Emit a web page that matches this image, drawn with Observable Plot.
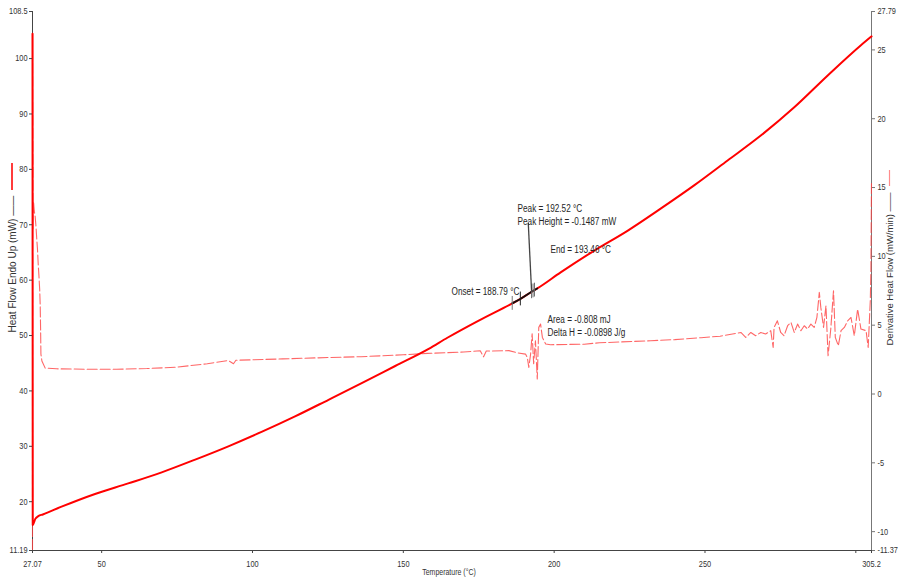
<!DOCTYPE html>
<html>
<head>
<meta charset="utf-8">
<script src="https://cdn.jsdelivr.net/npm/d3@7"></script>
<script src="https://cdn.jsdelivr.net/npm/@observablehq/plot@0.6"></script>
<style>
  html, body { margin: 0; padding: 0; background: #fff; }
  #chart { width: 898px; height: 581px; }
</style>
</head>
<body>
<div id="chart"></div>
<script>
// DSC heat flow (left axis, mW) against temperature (°C)
const heatFlowT = [27.07, 27.15, 27.5, 28.0, 29.0, 30.5, 36.7, 47.8, 58.8, 69.9, 81.0, 92.0, 103.0, 114.1,
  125.2, 136.2, 147.3, 158.4, 164.6, 175.0, 186.1, 188.79, 192.52, 194.4, 202.15, 213.2, 224.3,
  235.3, 246.4, 257.5, 268.5, 279.6, 290.6, 301.7, 305.2];
const heatFlow = [104.5, 15.8, 16.2, 16.9, 17.4, 17.7, 19.1, 21.4, 23.3, 25.3, 27.6, 30.0, 32.6, 35.4,
  38.4, 41.4, 44.5, 47.6, 49.6, 52.7, 55.8, 56.6, 57.9, 58.5, 61.4, 65.3, 68.9,
  72.9, 77.1, 81.6, 86.1, 91.2, 96.9, 102.4, 104.0];

// Derivative heat flow (right axis, mW/min)
const derivT = [27.07, 27.12, 27.25, 27.40, 27.65, 27.95, 28.25, 28.50, 28.70, 28.95, 29.20, 29.45, 29.62,
  29.75, 29.86, 30.19, 31.28, 35, 45, 55, 65, 75, 85, 92.0, 93.7, 94.5, 110, 125, 136, 150, 158, 170,
  175.5, 176.6, 177.5, 185, 187.8, 190.5, 191.1, 191.6, 192.2, 192.7, 193.2, 193.8, 194.4, 194.9, 195.5,
  196.1, 197.2, 198.8, 210, 215, 232, 240, 248.7, 255, 261.9, 263.5, 265.2, 266.8, 268.5, 270.1, 271.8,
  272.6, 272.9, 274.0, 275.1, 276.2, 277.4, 278.5, 279.6, 280.7, 281.8, 282.9, 284.0, 285.1, 286.2,
  287.1, 287.9, 288.4, 289.3, 290.1, 290.8, 291.7, 292.6, 293.2, 294.2, 295.1, 296.2, 297.3, 298.4,
  299.5, 300.6, 301.7, 303.4, 304.1, 304.8, 305.0, 305.2];
const deriv = [-11.3, 26.2, 12.0, 14.0, 13.3, 12.9, 12.1, 11.2, 10.6, 9.5, 8.6, 7.6, 6.5,
  4.8, 2.9, 2.4, 1.88, 1.83, 1.80, 1.80, 1.85, 1.95, 2.2, 2.43, 2.2, 2.45, 2.55, 2.65, 2.71, 2.85, 2.95, 3.05,
  3.14, 2.7, 3.12, 3.15, 2.99, 2.90, 2.66, 1.93, 2.92, 4.38, 2.20, 3.87, 1.09, 4.84, 5.08,
  4.11, 3.63, 3.58, 3.62, 3.72, 3.87, 3.95, 4.09, 4.2, 4.47, 4.11, 4.47, 4.23, 4.47, 4.36, 4.60,
  3.38, 4.84, 5.32, 4.47, 4.23, 4.96, 5.20, 4.47, 5.08, 4.60, 4.96, 4.72, 5.08, 4.84,
  5.56, 7.38, 6.29, 4.84, 6.41, 2.78, 4.72, 7.50, 4.11, 3.51, 4.60, 4.84, 5.32, 5.56,
  4.23, 6.17, 4.72, 4.60, 3.38, 6.78, 8.96, 15.5];

// Axis ranges and ticks
const tempDomain = [27.07, 305.2];
const heatFlowDomain = [11.19, 108.5];
const derivDomain = [-11.37, 27.79];
const tempTicks = [27.07, 50, 100, 150, 200, 250, 300, 305.2];
const tempTickLabels = ["27.07", "50", "100", "150", "200", "250", "", "305.2"];
const heatFlowTicks = [11.19, 20, 30, 40, 50, 60, 70, 80, 90, 100, 108.5];
const heatFlowTickLabels = ["11.19", "20", "30", "40", "50", "60", "70", "80", "90", "100", "108.5"];
const derivTicks = [-11.37, -10, -5, 0, 5, 10, 15, 20, 25, 27.79];
const derivTickLabels = ["-11.37", "-10", "-5", "0", "5", "10", "15", "20", "25", "27.79"];

// Transition analysis results
const onsetT = 188.79, peakT = 192.52, endT = 193.46;
const peakHeight = -0.1487, area = -0.808, deltaH = -0.0898;
const baselineStartT = 186.1, baselineEndT = 194.4;
const markerTemps = [186.1, 188.79, 192.52, 193.0, 193.46];
const markerColors = ["#777", "#222", "#666", "#777", "#666"];

// ---- derived tables ----
const hfData = heatFlowT.map((t, i) => ({t, v: heatFlow[i]}));
const [d0, d1] = derivDomain, [h0, h1] = heatFlowDomain;
const toLeft = d => h0 + (d - d0) * (h1 - h0) / (d1 - d0);
const derivData = derivT.map((t, i) => ({t, v: toLeft(deriv[i])}));

const hfAt = t => {
  const i = d3.bisectRight(heatFlowT, t);
  if (i <= 0) return heatFlow[0];
  if (i >= heatFlowT.length) return heatFlow[heatFlowT.length - 1];
  const a = heatFlowT[i - 1], b = heatFlowT[i];
  return heatFlow[i - 1] + (heatFlow[i] - heatFlow[i - 1]) * (t - a) / (b - a);
};

const tangent = hfData.filter(d => d.t >= baselineStartT && d.t <= baselineEndT);
const markers = markerTemps.map((t, i) => ({t, lo: hfAt(t) - 1.25, hi: hfAt(t) + 1.25, c: markerColors[i]}));
const peakPt = {t: peakT, v: hfAt(peakT)};
const endPt = {t: endT, v: hfAt(endT)};
const onsetPt = {t: onsetT, v: hfAt(onsetT)};

const tempLabel = new Map(tempTicks.map((d, i) => [d, tempTickLabels[i]]));
const hfLabel = new Map(heatFlowTicks.map((d, i) => [d, heatFlowTickLabels[i]]));
const derivTickPos = derivTicks.map(toLeft);
const derivLabel = new Map(derivTickPos.map((d, i) => [d, derivTickLabels[i]]));

const font = "'Liberation Sans', Arial, sans-serif";
const ink = "#333";
const note = "#262626";
const margin = {left: 32, right: 27, top: 11, bottom: 31};
const frameMidY = margin.top + (581 - margin.top - margin.bottom) / 2;

const chart = Plot.plot({
  width: 898,
  height: 581,
  marginLeft: margin.left,
  marginRight: margin.right,
  marginTop: margin.top,
  marginBottom: margin.bottom,
  x: {domain: tempDomain},
  y: {domain: heatFlowDomain},
  style: {fontFamily: font, fontSize: "9px", color: ink, background: "#fff", overflow: "visible"},
  marks: [
    // axis lines
    Plot.ruleY([heatFlowDomain[0]], {stroke: "#444"}),
    Plot.ruleX([tempDomain[0]], {stroke: "#444"}),
    Plot.ruleX([tempDomain[1]], {stroke: "#777"}),
    // derivative curve, dashed
    Plot.line(derivData, {x: "t", y: "v", stroke: "#ff4040", strokeOpacity: 0.8, strokeWidth: 1.1,
      strokeDasharray: "10,3"}),
    // heat flow curve
    Plot.line(hfData, {x: "t", y: "v", stroke: "#ff0000", strokeWidth: 2, curve: "monotone-x"}),
    // onset tangent segment
    Plot.line(tangent, {x: "t", y: "v", stroke: "#111", strokeWidth: 1.8}),
    // event markers
    Plot.ruleX(markers, {x: "t", y1: "lo", y2: "hi", stroke: "c", strokeWidth: 1}),
    // peak leader
    Plot.link([peakPt], {x1: "t", y1: "v", x2: d => d.t - 1.1, y2: d => d.v + 12.4, stroke: "#444", strokeWidth: 1.3}),
    // annotations
    Plot.text([peakPt], {x: "t", y: "v", text: d => `Peak = ${peakT.toFixed(2)} °C`, textAnchor: "start", dx: -14, dy: -83, fill: note, fontSize: 10}),
    Plot.text([peakPt], {x: "t", y: "v", text: d => `Peak Height = ${peakHeight} mW`, textAnchor: "start", dx: -14, dy: -70, fill: note, fontSize: 10}),
    Plot.text([endPt], {x: "t", y: "v", text: d => `End = ${endT.toFixed(2)} °C`, textAnchor: "start", dx: 16, dy: -40, fill: note, fontSize: 10}),
    Plot.text([onsetPt], {x: "t", y: "v", text: d => `Onset = ${onsetT.toFixed(2)} °C`, textAnchor: "end", dx: -1, dy: -7, fill: note, fontSize: 10}),
    Plot.text([peakPt], {x: "t", y: "v", text: d => `Area = ${area} mJ`, textAnchor: "start", dx: 16, dy: 28, fill: note, fontSize: 10}),
    Plot.text([peakPt], {x: "t", y: "v", text: d => `Delta H = ${deltaH} J/g`, textAnchor: "start", dx: 16, dy: 41.5, fill: note, fontSize: 10}),
    // axes
    Plot.axisX(tempTicks, {tickSize: 3, tickPadding: 7, tickFormat: d => tempLabel.get(d), label: null, stroke: "#444"}),
    Plot.axisY(heatFlowTicks, {anchor: "left", tickSize: 3, tickPadding: 2, tickFormat: d => hfLabel.get(d), label: null, stroke: "#444"}),
    Plot.axisY(derivTickPos, {anchor: "right", tickSize: 3, tickPadding: 3, tickFormat: d => derivLabel.get(d), label: null, stroke: "#777"}),
    // axis titles
    Plot.text(["Temperature (°C)"], {frameAnchor: "bottom", dx: -3, dy: 24.5, fontSize: 8.5, fill: ink}),
    Plot.text(["Heat Flow Endo Up (mW) ——"], {frameAnchor: "left", rotate: -90, textAnchor: "start",
      dx: -20, dy: 332 - frameMidY, fontSize: 10, fill: ink}),
    Plot.text(["Derivative Heat Flow (mW/min) ——"], {frameAnchor: "right", rotate: -90, textAnchor: "start",
      dx: 18.5, dy: 345 - frameMidY, fontSize: 9.5, fill: ink})
  ]
});

// series swatches next to the axis titles
const svg = d3.select(chart);
svg.append("line")
  .attr("x1", margin.left - 20).attr("x2", margin.left - 20)
  .attr("y1", 163).attr("y2", 190)
  .attr("stroke", "#ff3b3b").attr("stroke-width", 2);
svg.append("line")
  .attr("x1", 898 - margin.right + 18.5).attr("x2", 898 - margin.right + 18.5)
  .attr("y1", 170).attr("y2", 186)
  .attr("stroke", "#ff8c8c").attr("stroke-width", 1.2);

document.getElementById("chart").appendChild(chart);

// narrow letterforms for the tick labels and notes (rotated titles keep full width)
svg.selectAll("text").each(function() {
  if ((this.getAttribute("transform") || "").includes("rotate")) return;
  const len = this.getComputedTextLength();
  if (len > 0) {
    this.setAttribute("textLength", (len * 0.82).toFixed(2));
    this.setAttribute("lengthAdjust", "spacingAndGlyphs");
  }
});
</script>
</body>
</html>
